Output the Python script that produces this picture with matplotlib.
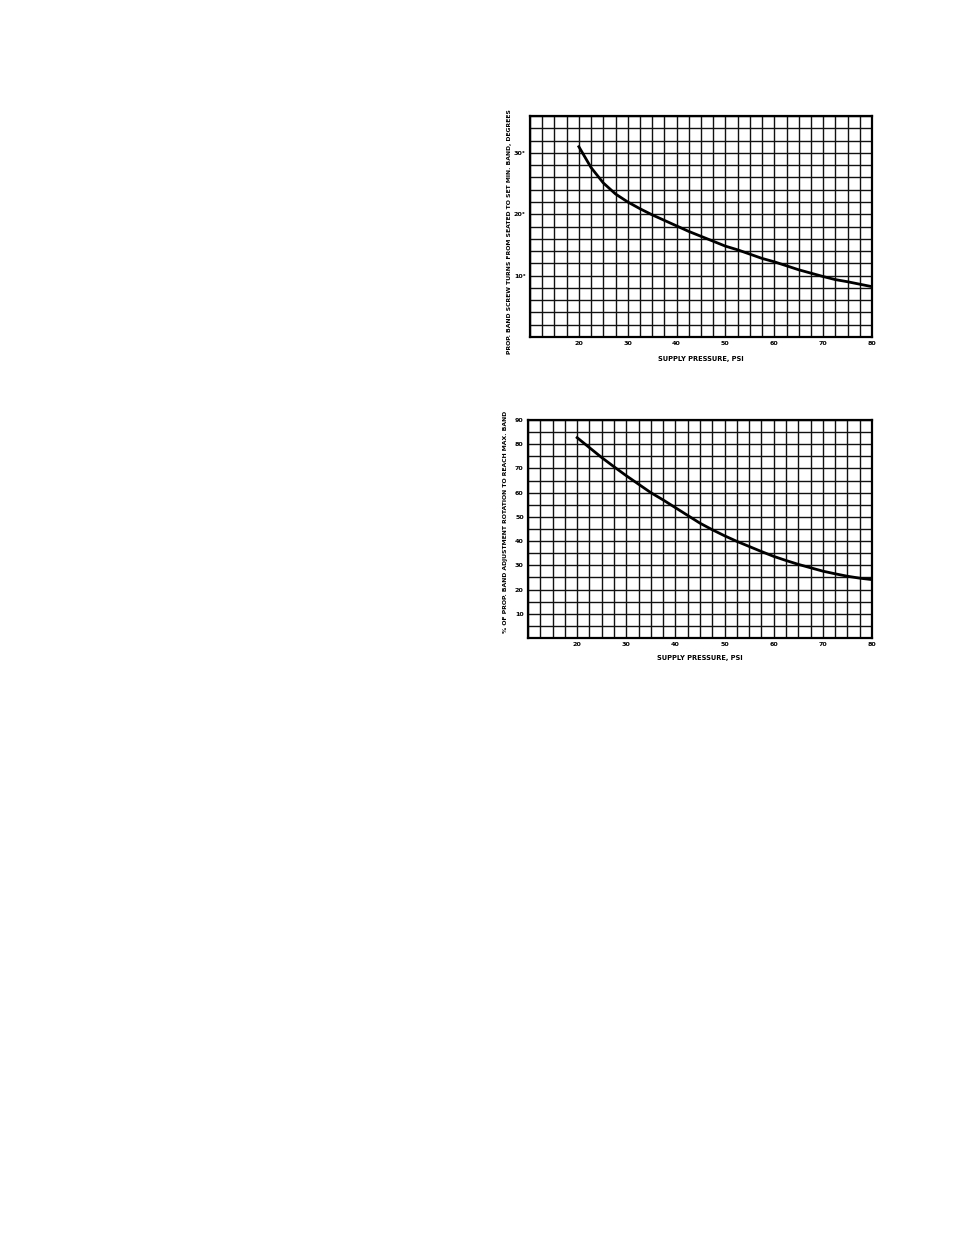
import numpy as np
import matplotlib
matplotlib.use("Agg")
import matplotlib.pyplot as plt

# data
psi = [20, 22.5, 25, 27.5, 30, 32.5, 35, 37.5, 40, 42.5, 45, 47.5, 50,
       52.5, 55, 57.5, 60, 62.5, 65, 67.5, 70, 72.5, 75, 77.5, 80]
turns_deg = [31.0, 27.6, 25.1, 23.3, 22.0, 20.9, 19.9, 19.0, 18.1, 17.2,
             16.4, 15.6, 14.8, 14.2, 13.5, 12.8, 12.25, 11.6, 10.95, 10.4,
             9.85, 9.35, 9.0, 8.6, 8.2]
pct_rotation = [82.7, 78.6, 74.5, 70.7, 67.0, 63.5, 60.0, 57.0, 53.8, 50.6,
                47.4, 44.7, 42.2, 39.9, 37.8, 35.7, 33.7, 32.0, 30.4, 29.0,
                27.6, 26.5, 25.5, 24.7, 24.1]

x_ticks = [20, 30, 40, 50, 60, 70, 80]
top_yticks = [10, 20, 30]
top_ylabels = ["10°", "20°", "30°"]
bot_yticks = [10, 20, 30, 40, 50, 60, 70, 80, 90]

plt.rcParams['font.family'] = ['DejaVu Sans']
plt.rcParams['font.weight'] = 'bold'

W, H = 954, 1235
fig = plt.figure(figsize=(W / 100, H / 100), dpi=100)
fig.patch.set_facecolor('white')


def px_axes(left, top, right, bottom):
    return fig.add_axes([left / W, 1 - bottom / H,
                         (right - left) / W, (bottom - top) / H])


def style(ax, ymax, ystep):
    ax.set_xlim(10, 80)
    ax.set_ylim(0, ymax)
    ax.set_xticks(np.arange(10, 80.01, 2.5), minor=True)
    ax.set_yticks(np.arange(0, ymax + 0.01, ystep), minor=True)
    ax.grid(which='both', color='#111111', linewidth=1.0)
    ax.set_axisbelow(True)
    ax.tick_params(which='both', length=0, labelsize=4.6, pad=3)
    for s in ax.spines.values():
        s.set_linewidth(1.6)
        s.set_color('black')


# %% top chart
ax1 = px_axes(530, 116, 872, 337)
style(ax1, 36, 2)
ax1.plot(psi, turns_deg, color='black', linewidth=2.0, zorder=3)
ax1.set_xticks(x_ticks)
ax1.set_yticks(top_yticks)
ax1.set_yticklabels(top_ylabels)
fig.text(701 / W, 1 - 359 / H, "SUPPLY PRESSURE, PSI", ha='center',
         va='center', fontsize=4.8, fontweight='bold')
fig.text(510 / W, 1 - 232 / H,
         "PROP. BAND SCREW TURNS FROM SEATED TO SET MIN. BAND, DEGREES",
         rotation=90, ha='center', va='center', fontsize=4.4,
         fontweight='bold')

# %% bottom chart
ax2 = px_axes(528, 420, 872, 638)
style(ax2, 90, 5)
ax2.plot(psi, pct_rotation, color='black', linewidth=2.0, zorder=3)
ax2.set_xticks(x_ticks)
ax2.set_yticks(bot_yticks)
fig.text(700 / W, 1 - 658 / H, "SUPPLY PRESSURE, PSI", ha='center',
         va='center', fontsize=4.8, fontweight='bold')
fig.text(506 / W, 1 - 522 / H,
         "% OF PROP. BAND ADJUSTMENT ROTATION TO REACH MAX. BAND",
         rotation=90, ha='center', va='center', fontsize=4.4,
         fontweight='bold')

fig.savefig("out.png", dpi=100, facecolor='white')
